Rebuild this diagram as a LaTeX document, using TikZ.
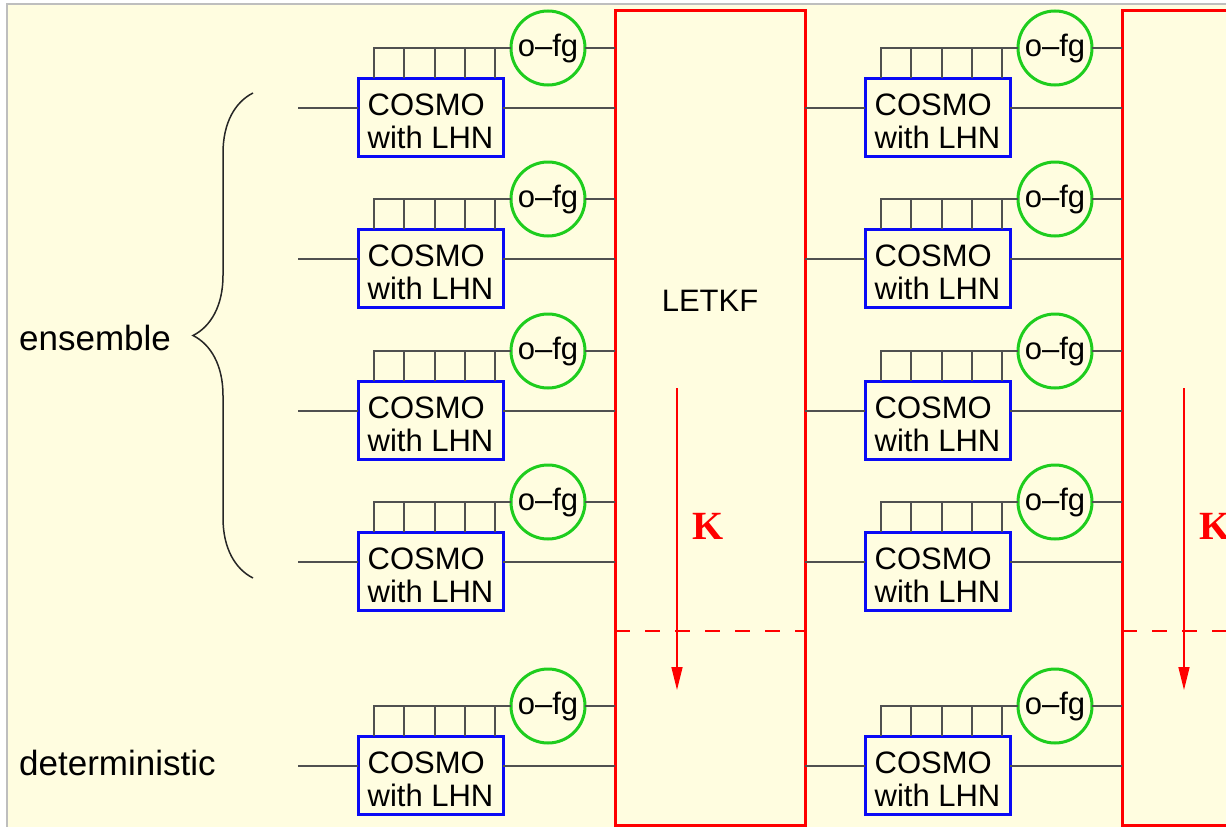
\documentclass[tikz,border=0pt]{standalone}
\usepackage{fontspec}
\setmainfont{Liberation Sans}
\newfontfamily\kfont{Liberation Serif}
\usetikzlibrary{arrows.meta,positioning,calc,decorations.pathreplacing}
\definecolor{paleyellow}{RGB}{255,253,224}
\definecolor{framegray}{RGB}{190,190,190}
\definecolor{wiregray}{RGB}{80,80,80}
\definecolor{modelblue}{RGB}{10,10,245}
\definecolor{obsgreen}{RGB}{30,205,30}
\newcommand{\cosmotext}{\rule{0pt}{30pt}COSMO\\with LHN}
\tikzset{
    cosmobox/.style={
        rectangle,
        draw=modelblue,
        line width=3pt,
        fill=paleyellow,
        minimum width=145pt,
        minimum height=78pt,
        inner sep=0pt,
        outer sep=0pt,
        align=left,
        font=\fontsize{31}{33}\selectfont
    },
    ofgcircle/.style={
        circle,
        draw=obsgreen,
        line width=3pt,
        fill=paleyellow,
        minimum size=74pt,
        inner sep=0pt,
        outer sep=0pt,
        font=\fontsize{31}{33}\selectfont
    },
    letkfbox/.style={
        rectangle,
        draw=red,
        line width=3pt,
        minimum width=190pt,
        minimum height=815pt,
        outer sep=0pt,
        anchor=north west
    },
    wire/.style={
        draw=wiregray,
        line width=2pt
    },
    gain/.style={
        red,
        line width=1.6pt,
        -{Triangle[length=23pt,width=11pt]}
    },
    boxlabel/.style={
        inner sep=0pt,
        outer sep=0pt,
        font=\fontsize{31}{33}\selectfont
    },
    sidelabel/.style={
        inner sep=0pt,
        font=\fontsize{35}{38}\selectfont
    },
    gainlabel/.style={
        text=red,
        inner sep=0pt,
        font=\kfont\bfseries\fontsize{40}{44}\selectfont
    }
}

\begin{document}
\begin{tikzpicture}[x=1pt, y=-1pt]
\useasboundingbox (0,0) rectangle (1226,827);
\clip (0,0) rectangle (1226,827);
% background
\fill[white] (0,0) rectangle (1226,827);
\draw[framegray, line width=2pt, fill=paleyellow] (7,4) rectangle (1260,860);

% LETKF boxes
\foreach \c/\dx in {1/0, 2/507} {
    \node[letkfbox] (letkf-\c) at (615+\dx,10) {};
    \draw[red, line width=2.6pt, dash pattern=on 15pt off 15pt] ($(letkf-\c.north west)+(0,621)$) -- ++(190,0);
    \draw[gain] ($(letkf-\c.north west)+(62,378)$) -- ++(0,302);
    \node[gainlabel] (k-\c) at (708+\dx,526) {K};
}
\node[boxlabel, below=280pt of letkf-1.north] (letkf-name) {LETKF};

% model runs
\foreach \c/\dx/\x in {1/0/298, 2/507/805} {
    \foreach \r/\dy in {1/0, 2/151, 3/303, 4/454, 5/658} {
        \node[cosmobox] (cosmo-\c-\r) at (430.5+\dx,117+\dy) {\cosmotext};
        \node[ofgcircle] (ofg-\c-\r) at (548+\dx,48+\dy) {o--fg};
        \coordinate (tap-\c-\r) at (\x,108+\dy);
        \draw[wire] (tap-\c-\r) -- (tap-\c-\r -| cosmo-\c-\r.west);
        \draw[wire] (tap-\c-\r -| cosmo-\c-\r.east) -- (tap-\c-\r -| letkf-\c.west);
        \draw[wire] (ofg-\c-\r) -- (ofg-\c-\r -| letkf-\c.west);
        \draw[wire] ($(cosmo-\c-\r.north west)+(16,0)$) |- (ofg-\c-\r);
        \foreach \k in {1,...,4}
            \draw[wire] ($(cosmo-\c-\r.north west)+(16+30.3*\k,0)$) -- ++(0,-30);
    }
}

% ensemble brace
\coordinate (brace-bottom) at (253,578);
\coordinate (brace-top) at (253,93);
\draw[wire, draw=black!85, line width=1.5pt, decorate, decoration={brace, amplitude=60pt}] (brace-bottom) -- (brace-top);
\node[sidelabel, anchor=base west] (ensemble) at (19,350) {ensemble};
\node[sidelabel, anchor=base west] (deterministic) at (19,775) {deterministic};
\end{tikzpicture}
\end{document}
